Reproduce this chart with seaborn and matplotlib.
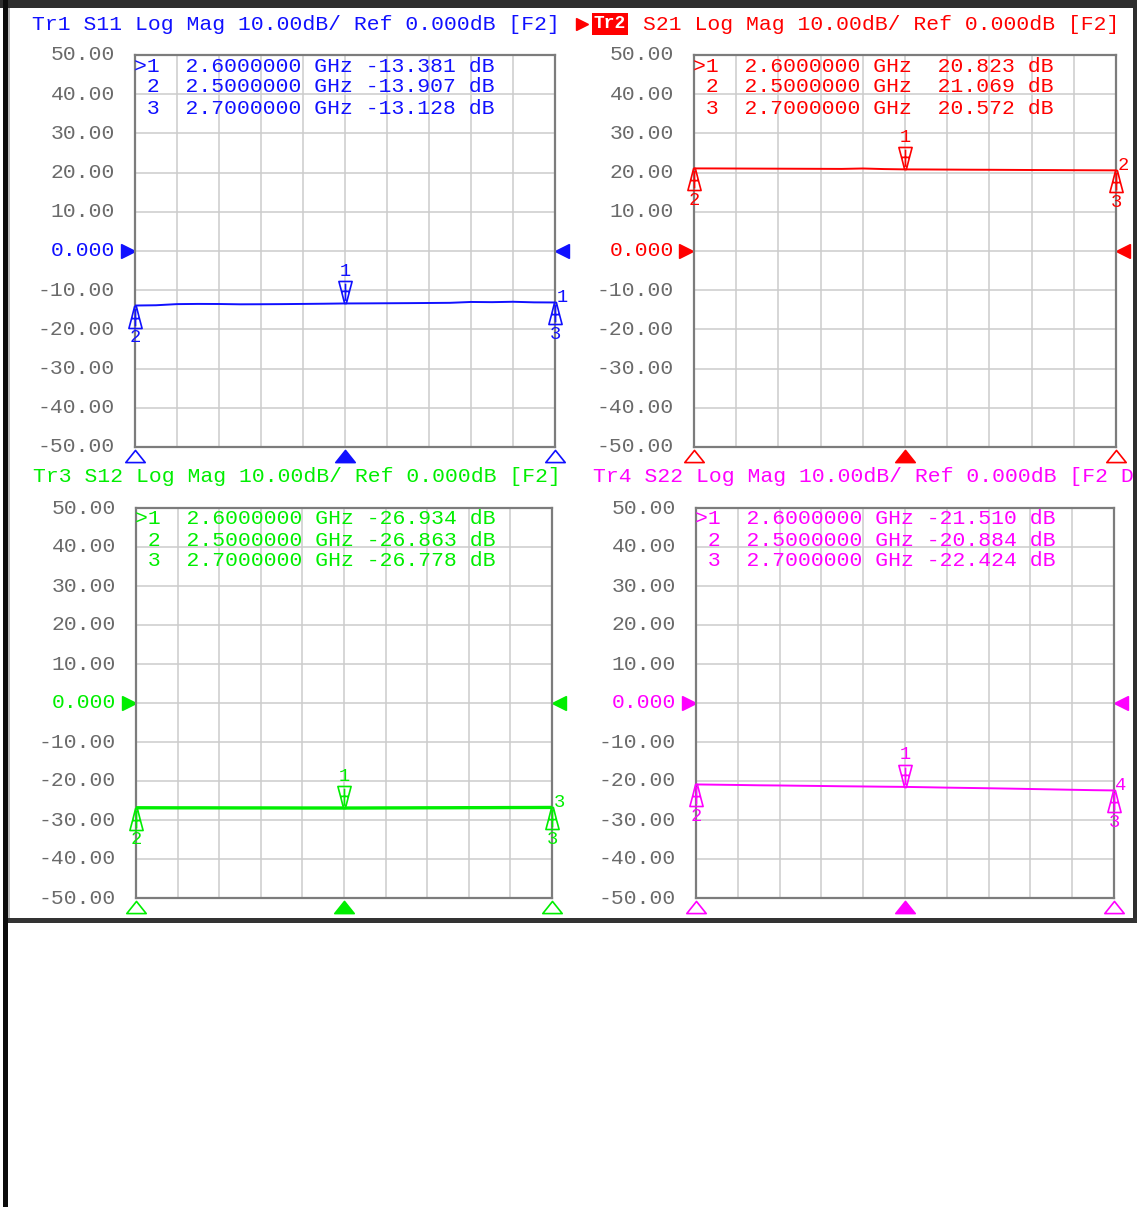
import matplotlib
matplotlib.use("Agg")
import matplotlib.pyplot as plt
from matplotlib.path import Path
from matplotlib.patches import Rectangle
from matplotlib.transforms import ScaledTranslation
import seaborn as sns

# ---------------------------------------------------------------------------
# Data
# ---------------------------------------------------------------------------

freq_ghz = [2.50, 2.51, 2.52, 2.53, 2.54, 2.55, 2.56, 2.57, 2.58, 2.59, 2.60,
            2.61, 2.62, 2.63, 2.64, 2.65, 2.66, 2.67, 2.68, 2.69, 2.70]

s11_db = [-13.91, -13.84, -13.55, -13.50, -13.52, -13.60, -13.58, -13.55, -13.50, -13.45, -13.38,
          -13.36, -13.33, -13.30, -13.26, -13.22, -13.00, -13.05, -12.95, -13.10, -13.13]
s21_db = [21.07, 21.06, 21.04, 21.02, 21.00, 20.98, 20.96, 20.94, 21.05, 20.90, 20.82,
          20.80, 20.77, 20.74, 20.72, 20.69, 20.66, 20.64, 20.61, 20.59, 20.57]
s12_db = [-26.86, -26.87, -26.88, -26.88, -26.89, -26.90, -26.90, -26.91, -26.92, -26.92, -26.93,
          -26.92, -26.90, -26.89, -26.87, -26.86, -26.84, -26.83, -26.81, -26.80, -26.78]
s22_db = [-20.88, -20.95, -21.02, -21.10, -21.15, -21.22, -21.28, -21.35, -21.40, -21.46, -21.51,
          -21.60, -21.70, -21.78, -21.86, -21.95, -22.05, -22.15, -22.25, -22.35, -22.42]

marker_ids = ["1", "2", "3"]
marker_freq = [2.6, 2.5, 2.7]
s11_markers = [-13.381, -13.907, -13.128]
s21_markers = [20.823, 21.069, 20.572]
s12_markers = [-26.934, -26.863, -26.778]
s22_markers = [-21.510, -20.884, -22.424]

trace_names = ["Tr1", "Tr2", "Tr3", "Tr4"]
sparams = ["S11", "S21", "S12", "S22"]
header_tail = ["[F2]", "[F2]", "[F2]", "[F2 D"]
y_ticks = [50, 40, 30, 20, 10, 0, -10, -20, -30, -40, -50]
y_tick_labels = ["50.00", "40.00", "30.00", "20.00", "10.00", "0.000",
                 "-10.00", "-20.00", "-30.00", "-40.00", "-50.00"]
x_grid = freq_ghz[::2]

traces = [s11_db, s21_db, s12_db, s22_db]
markers = [s11_markers, s21_markers, s12_markers, s22_markers]
colors = ["#1010ff", "#ff0000", "#00ee00", "#ff00ff"]
line_widths = [1.4, 1.4, 2.4, 1.4]

# ---------------------------------------------------------------------------
# Style
# ---------------------------------------------------------------------------

sns.set_theme(style="white")
plt.rcParams["font.family"] = ["Liberation Mono", "DejaVu Sans"]
FS = 15.4
CHAR_PX = 12.85
TICK_GRAY = "#6a6a6a"
GRID_GRAY = "#cccccc"
SPINE_GRAY = "#7c7c7c"

W, H = 1137, 1207

# axes boxes in pixels (left, top, right, bottom)
boxes = [(135, 55, 555, 447), (694, 55, 1116, 447),
         (136, 508, 552, 898), (696, 508, 1114, 898)]

# marker glyphs: tip sits on the trace point
_dv = [(-0.3, 1.0), (0.3, 1.0), (0.18, 0.55), (0.04, 0.0), (-0.04, 0.0), (-0.18, 0.55), (-0.3, 1.0),
       (-0.18, 0.55), (0.18, 0.55), (0.0, 0.9), (0.0, 0.12)]
_dc = [Path.MOVETO, Path.LINETO, Path.LINETO, Path.LINETO, Path.LINETO, Path.LINETO, Path.CLOSEPOLY,
       Path.MOVETO, Path.LINETO, Path.MOVETO, Path.LINETO]
marker_down = Path(_dv, _dc)
marker_up = Path([(x, -y) for x, y in _dv], _dc)
tri_up = Path([(-0.8, -0.5), (0.8, -0.5), (0.0, 0.5), (-0.8, -0.5)],
              [Path.MOVETO, Path.LINETO, Path.LINETO, Path.CLOSEPOLY])

fig = plt.figure(figsize=(W / 100, H / 100), dpi=100)
lift = ScaledTranslation(0, 2 / 100, fig.dpi_scale_trans)

for i in range(4):
    l, t, r, b = boxes[i]
    ax = fig.add_axes([l / W, 1 - b / H, (r - l) / W, (b - t) / H])
    col = colors[i]

    sns.lineplot(x=freq_ghz, y=traces[i], ax=ax, color=col,
                 linewidth=line_widths[i], zorder=3)

    ax.set_xlim(freq_ghz[0], freq_ghz[-1])
    ax.set_ylim(-50, 50)
    ax.set_xticks(x_grid)
    ax.set_xticklabels([])
    ax.set_yticks(y_ticks)
    ax.set_yticklabels(y_tick_labels)
    ax.tick_params(axis="both", length=0)
    ax.tick_params(axis="y", pad=14.4, labelsize=FS, labelcolor=TICK_GRAY)
    for lab in ax.get_yticklabels():
        lab.set_transform(lab.get_transform() + lift)
    ax.get_yticklabels()[5].set_color(col)
    ax.grid(True, color=GRID_GRAY, linewidth=1.1)
    ax.set_xlabel("")
    ax.set_ylabel("")
    for sp in ax.spines.values():
        sp.set_visible(True)
        sp.set_color(SPINE_GRAY)
        sp.set_linewidth(1.6)

    # header line above the panel
    tail = f"{sparams[i]} Log Mag 10.00dB/ Ref 0.000dB {header_tail[i]}"
    if i == 1:
        ax.annotate(tail, xy=(0, 1), xycoords="axes fraction",
                    xytext=(-102 + 4 * CHAR_PX, 31), textcoords="offset pixels",
                    ha="left", va="center", fontsize=FS, color=col)
        ax.annotate(trace_names[i], xy=(0, 1), xycoords="axes fraction",
                    xytext=(-100, 31), textcoords="offset pixels",
                    ha="left", va="center", fontsize=FS - 2.5, color="white",
                    fontweight="bold",
                    bbox=dict(boxstyle="square,pad=0.12", fc=col, ec="none"))
        ax.plot([0], [1], marker=">", ms=9, color=col, mec=col,
                clip_on=False, linestyle="none",
                transform=ax.transAxes + ScaledTranslation(-112 / 100, 31 / 100, fig.dpi_scale_trans))
    else:
        ax.annotate(f"{trace_names[i]} {tail}", xy=(0, 1), xycoords="axes fraction",
                    xytext=(-103, 31), textcoords="offset pixels",
                    ha="left", va="center", fontsize=FS, color=col)

    # marker table
    for k in range(3):
        tag = (">" if k == 0 else " ") + marker_ids[k]
        line = f"{tag}  {marker_freq[k]:.7f} GHz {markers[i][k]:7.3f} dB"
        ax.annotate(line, xy=(0, 1), xycoords="axes fraction",
                    xytext=(-1, -11 - 21 * k), textcoords="offset pixels",
                    ha="left", va="center", fontsize=FS, color=col)

    # markers on the trace
    for k in range(3):
        f, v = marker_freq[k], markers[i][k]
        glyph = marker_down if k == 0 else marker_up
        dy = 32 if k == 0 else -32
        ax.plot([f], [v], marker=glyph, ms=31.7, mfc="none", mec=col,
                mew=1.2, linestyle="none", clip_on=False, zorder=4)
        ax.annotate(marker_ids[k], xy=(f, v), xytext=(0, dy),
                    textcoords="offset pixels", ha="center", va="center",
                    fontsize=13.5, color=col, annotation_clip=False)

    # trace number at the end of the trace
    ax.annotate(trace_names[i][-1], xy=(freq_ghz[-1], traces[i][-1]),
                xytext=(7, 5), textcoords="offset pixels", ha="center",
                va="center", fontsize=13.5, color=col, annotation_clip=False)

    # stimulus triangles under the x axis
    for k in range(3):
        ax.plot([marker_freq[k]], [-9 / (b - t)], transform=ax.get_xaxis_transform(),
                marker=tri_up, ms=14, mec=col, mew=1.2,
                mfc=col if k == 0 else "white", linestyle="none", clip_on=False)

    # reference level arrows at 0 dB
    ax.plot([-7.5 / (r - l)], [0], transform=ax.get_yaxis_transform(), marker=">",
            ms=10, color=col, linestyle="none", clip_on=False)
    ax.plot([1 + 6.5 / (r - l)], [0], transform=ax.get_yaxis_transform(), marker="<",
            ms=10, color=col, linestyle="none", clip_on=False)


# ---------------------------------------------------------------------------
# Screen frame
# ---------------------------------------------------------------------------

def frame_rect(x0, y0, x1, y1, color):
    fig.add_artist(Rectangle((x0 / W, 1 - y1 / H), (x1 - x0) / W, (y1 - y0) / H,
                             transform=fig.transFigure, facecolor=color,
                             edgecolor="none", zorder=20))


frame_rect(0, 0, W, 8, "#2e2e2e")
frame_rect(1133, 0, W, 923, "#2e2e2e")
frame_rect(3, 918, W, 923, "#333333")
frame_rect(8, 8, 10, 918, "#b8b8b8")
frame_rect(3, 0, 8, H, "#0c0c0c")
frame_rect(0, 8, 3, H, "#ffffff")

fig.savefig("out.png", dpi=100)
